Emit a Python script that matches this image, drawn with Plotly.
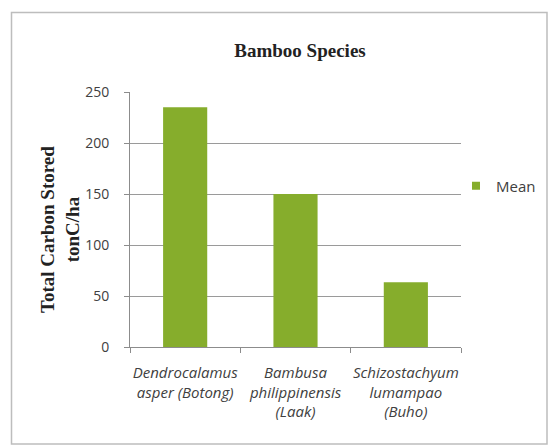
import plotly.graph_objects as go

categories = [
    "<i>Dendrocalamus<br>asper (Botong)</i>",
    "<i>Bambusa<br>philippinensis<br>(Laak)</i>",
    "<i>Schizostachyum<br>lumampao<br>(Buho)</i>",
]
mean_values = [235, 150, 63.5]
y_ticks = [0, 50, 100, 150, 200, 250]

W, H = 548, 448
L, R, T, B = 130, 87, 92, 101
pw, ph = W - L - R, H - T - B

def px(x):
    return (x - L) / pw

def py(y):
    return (H - B - y) / ph

GREEN = "#86ad2c"
SANS = "Open Sans, Calibri, sans-serif"
SERIF = "Liberation Serif, Times New Roman, serif"
AXIS = "#8c8c8c"

fig = go.Figure()
fig.add_trace(go.Bar(
    x=categories, y=mean_values, name="Mean", showlegend=False, legendgroup="mean",
    marker=dict(color=GREEN, line=dict(width=0)),
    width=0.4,
))
# legend entry with a small square swatch
fig.add_trace(go.Scatter(
    x=[None], y=[None], mode="markers", name="Mean", legendgroup="mean",
    marker=dict(symbol="square", size=8, color=GREEN),
))

fig.update_layout(
    width=W, height=H,
    margin=dict(l=L, r=R, t=T, b=B, autoexpand=False),
    paper_bgcolor="white", plot_bgcolor="white",
    showlegend=True,
    legend=dict(x=px(456), y=py(186), xanchor="left", yanchor="middle",
                font=dict(family=SANS, size=15, color="#404040"),
                itemwidth=30, bgcolor="rgba(0,0,0,0)"),
    title=dict(text="<b>Bamboo Species</b>", x=px(300), xref="paper", y=1 - 50 / H,
               yanchor="middle", xanchor="center",
               font=dict(family=SERIF, size=19, color="#222")),
    xaxis=dict(
        showline=True, linecolor=AXIS, linewidth=1,
        ticks="outside", tickson="boundaries", ticklen=5, tickcolor=AXIS,
        tickfont=dict(family=SANS, size=15, color="#404040"),
        tickangle=0,
        ticklabelstandoff=12,
        showgrid=False,
    ),
    yaxis=dict(
        range=[0, 250], tickvals=y_ticks,
        showline=True, linecolor=AXIS, linewidth=1,
        ticks="outside", ticklen=5, tickcolor=AXIS,
        showgrid=True, gridcolor="#9a9a9a", gridwidth=1,
        tickfont=dict(family=SANS, size=14, color="#404040"),
        ticklabelstandoff=12,
        zeroline=False,
    ),
    bargap=0.6,
)

fig.add_annotation(
    text="<b>Total Carbon Stored<br>tonC/ha</b>", textangle=-90,
    xref="paper", yref="paper", x=px(60), y=py(230),
    xanchor="center", yanchor="middle", showarrow=False,
    font=dict(family=SERIF, size=19, color="#222"),
)

fig.add_shape(type="rect", xref="paper", yref="paper",
              x0=px(11.5), x1=px(547), y0=py(444), y1=py(12.5),
              line=dict(color="#bdbdbd", width=1.5), fillcolor="rgba(0,0,0,0)", layer="below")

fig.write_html("out.html", config={"displayModeBar": False},
               post_script="document.body.style.margin='0';document.body.style.overflow='hidden';")
